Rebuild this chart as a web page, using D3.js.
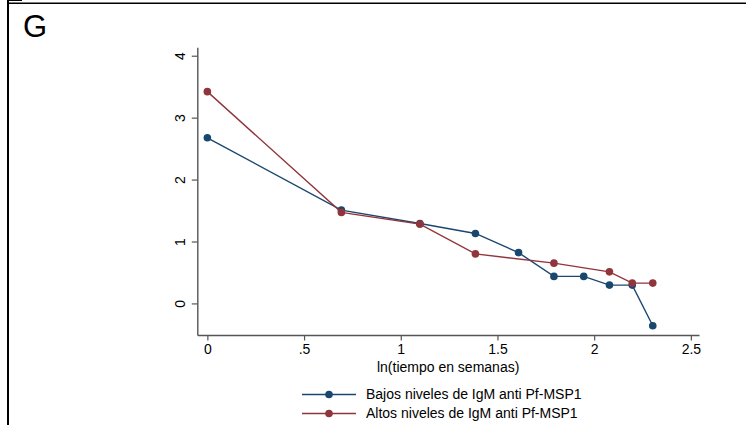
<!DOCTYPE html>
<html>
<head>
<meta charset="utf-8">
<script src="https://cdn.jsdelivr.net/npm/d3@7/dist/d3.min.js"></script>
<style>
  html, body { margin: 0; padding: 0; background: #fff; }
  svg { display: block; font-family: "Liberation Sans", Arial, sans-serif; }
</style>
</head>
<body>
<svg id="chart" width="746" height="425"></svg>
<script>
// ln(weeks) on x
var xBajos = [0, 0.693, 1.099, 1.386, 1.609, 1.792, 1.946, 2.079, 2.197, 2.303];
var yBajos = [2.675, 1.507, 1.29, 1.13, 0.82, 0.436, 0.436, 0.296, 0.296, -0.36];
var xAltos = [0, 0.693, 1.099, 1.386, 1.792, 2.079, 2.197, 2.303];
var yAltos = [3.42, 1.47, 1.28, 0.80, 0.65, 0.51, 0.328, 0.328];
var xTicks = [0, 0.5, 1, 1.5, 2, 2.5];
var xTickLabels = ["0", ".5", "1", "1.5", "2", "2.5"];
var yTicks = [0, 1, 2, 3, 4];
var seriesNames = ["Bajos niveles de IgM anti Pf-MSP1", "Altos niveles de IgM anti Pf-MSP1"];
var seriesColors = ["#1a476f", "#90353b"];

var svg = d3.select("#chart");

// panel frame fragments
svg.append("line").attr("x1", 8).attr("x2", 8).attr("y1", 0).attr("y2", 425)
  .attr("stroke", "#000").attr("stroke-width", 2);
svg.append("line").attr("x1", 8).attr("x2", 746).attr("y1", 3.3).attr("y2", 3.3)
  .attr("stroke", "#000").attr("stroke-width", 1.5);
svg.append("line").attr("x1", 7).attr("x2", 22).attr("y1", 0.5).attr("y2", 0.5)
  .attr("stroke", "#000").attr("stroke-width", 1);

svg.append("text").attr("x", 23).attr("y", 36.5)
  .attr("font-size", 31).attr("fill", "#000").text("G");

var x = d3.scaleLinear().domain([-0.052, 2.542]).range([197.3, 699]);
var y = d3.scaleLinear().domain([-0.51, 4.136]).range([335, 47.3]);

var axisColor = "#555";

// x axis
var gx = svg.append("g").attr("transform", "translate(0,335)")
  .call(d3.axisBottom(x).tickValues(xTicks)
    .tickFormat(function (d, i) { return xTickLabels[i]; })
    .tickSize(5.5).tickSizeOuter(0).tickPadding(4));
gx.select(".domain").attr("stroke", axisColor).attr("stroke-width", 1.4);
gx.selectAll(".tick line").attr("stroke", axisColor).attr("stroke-width", 1.2);
gx.selectAll(".tick text").attr("font-size", 14).attr("fill", "#000")
  .attr("font-family", "Liberation Sans, Arial, sans-serif");

// y axis
var gy = svg.append("g").attr("transform", "translate(197.3,0)")
  .call(d3.axisLeft(y).tickValues(yTicks).tickFormat(d3.format("d"))
    .tickSize(5.5).tickSizeOuter(0));
gy.select(".domain").attr("stroke", axisColor).attr("stroke-width", 1.4);
gy.selectAll(".tick line").attr("stroke", axisColor).attr("stroke-width", 1.2);
gy.selectAll(".tick text")
  .attr("font-size", 14).attr("fill", "#000")
  .attr("font-family", "Liberation Sans, Arial, sans-serif")
  .attr("x", null).attr("dy", null)
  .attr("text-anchor", "middle").attr("dominant-baseline", "central")
  .attr("transform", "translate(-17.3,0) rotate(-90)");

svg.append("text").attr("x", (197.3 + 699) / 2).attr("y", 371.5)
  .attr("text-anchor", "middle").attr("font-size", 14).attr("fill", "#000")
  .text("ln(tiempo en semanas)");

var line = d3.line().x(function (d) { return x(d[0]); }).y(function (d) { return y(d[1]); });

var series = [
  d3.zip(xBajos, yBajos),
  d3.zip(xAltos, yAltos)
];

series.forEach(function (pts, i) {
  var g = svg.append("g");
  g.append("path").datum(pts).attr("d", line).attr("fill", "none")
    .attr("stroke", seriesColors[i]).attr("stroke-width", 1.4);
  g.selectAll("circle").data(pts).enter().append("circle")
    .attr("cx", function (d) { return x(d[0]); })
    .attr("cy", function (d) { return y(d[1]); })
    .attr("r", 3.8).attr("fill", seriesColors[i]);
});

// legend
var legY = [394.5, 413.5];
seriesNames.forEach(function (name, i) {
  var lg = svg.append("g").attr("transform", "translate(0," + legY[i] + ")");
  lg.append("line").attr("x1", 302).attr("x2", 356).attr("y1", 0).attr("y2", 0)
    .attr("stroke", seriesColors[i]).attr("stroke-width", 1.4);
  lg.append("circle").attr("cx", 329).attr("cy", 0).attr("r", 3.8).attr("fill", seriesColors[i]);
  lg.append("text").attr("x", 366).attr("y", 0).attr("dy", "0.35em")
    .attr("font-size", 14).attr("fill", "#000").text(name);
});
</script>
</body>
</html>
